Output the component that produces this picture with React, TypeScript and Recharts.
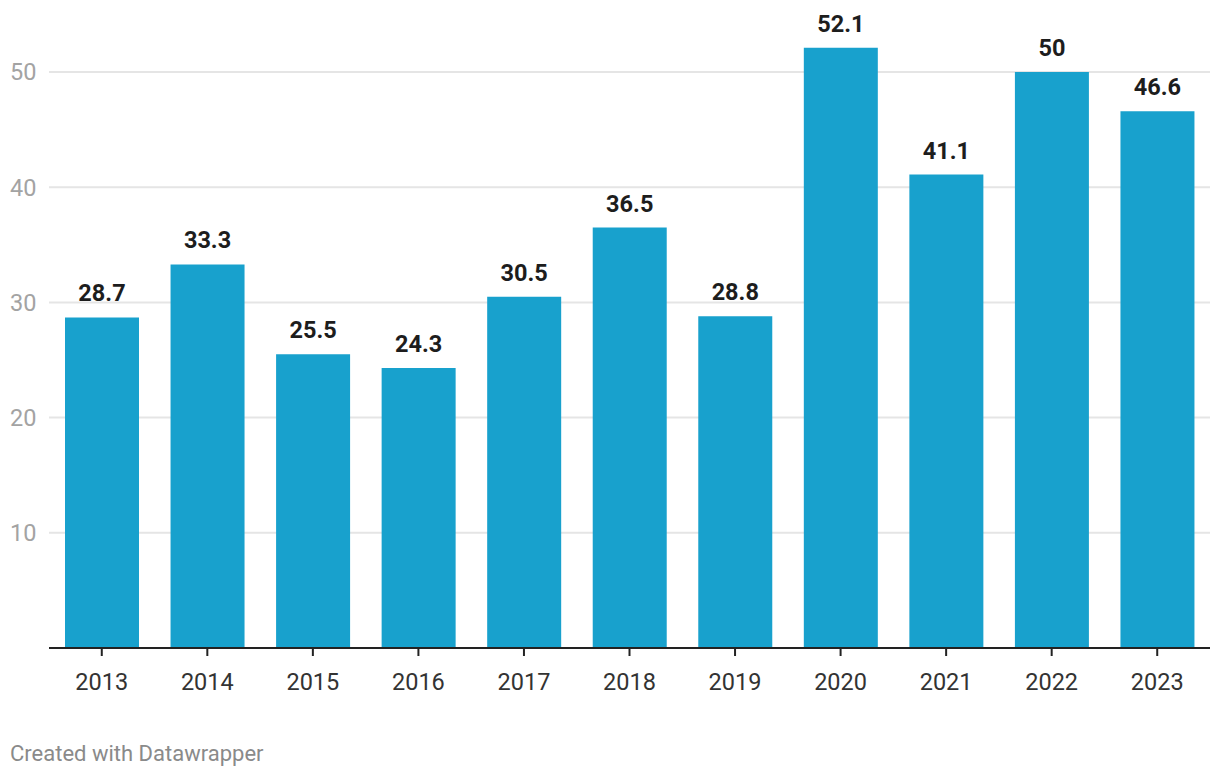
import React from 'react';
import { BarChart, Bar, XAxis, YAxis, CartesianGrid, LabelList } from 'recharts';

const years = ['2013', '2014', '2015', '2016', '2017', '2018', '2019', '2020', '2021', '2022', '2023'];
const values = [28.7, 33.3, 25.5, 24.3, 30.5, 36.5, 28.8, 52.1, 41.1, 50, 46.6];
const yTicks = [10, 20, 30, 40, 50];
const yMax = 55;

const data = years.map((y, i) => ({ year: y, value: values[i] }));

const FONT = 'Roboto, "Noto Sans", sans-serif';

const YTick = (props: any) => {
  const { y, payload } = props;
  return (
    <text x={10} y={y} dy="0.36em" textAnchor="start" fill="#a3a3a3" fontSize={23.5} fontFamily={FONT}>
      {payload.value}
    </text>
  );
};

export default function App() {
  return (
    <div style={{ position: 'absolute', left: 0, top: 0, width: 1220, height: 778, background: '#fff' }}>
      <BarChart
        width={1220}
        height={778}
        data={data}
        margin={{ top: 14.4, right: 10, bottom: 100, left: 0 }}
      >
        <CartesianGrid
          horizontal
          vertical={false}
          stroke="#e5e5e5"
          strokeWidth={2}
          horizontalCoordinatesGenerator={({ offset }: any) =>
            yTicks.map((t) => offset.top + offset.height * (1 - t / yMax))
          }
        />
        <YAxis
          width={49}
          domain={[0, yMax]}
          ticks={yTicks}
          axisLine={false}
          tickLine={false}
          tick={<YTick />}
          allowDataOverflow
        />
        <XAxis
          dataKey="year"
          height={30}
          axisLine={{ stroke: '#222', strokeWidth: 2 }}
          tickLine={{ stroke: '#222', strokeWidth: 2 }}
          tickSize={8}
          tickMargin={17}
          interval={0}
          tick={{ fill: '#333', fontSize: 23.5, fontFamily: FONT }}
        />
        <Bar dataKey="value" fill="#18a1cd" barSize={74} isAnimationActive={false}>
          <LabelList
            dataKey="value"
            position="top"
            offset={16}
            fill="#1d1d1d"
            fontSize={23.5}
            fontWeight={700}
            fontFamily={FONT}
          />
        </Bar>
      </BarChart>
      <div
        style={{
          position: 'absolute',
          left: 10,
          top: 741,
          fontFamily: FONT,
          fontSize: 22,
          color: '#8a8a8a',
          lineHeight: '26px',
        }}
      >
        Created with Datawrapper
      </div>
    </div>
  );
}
